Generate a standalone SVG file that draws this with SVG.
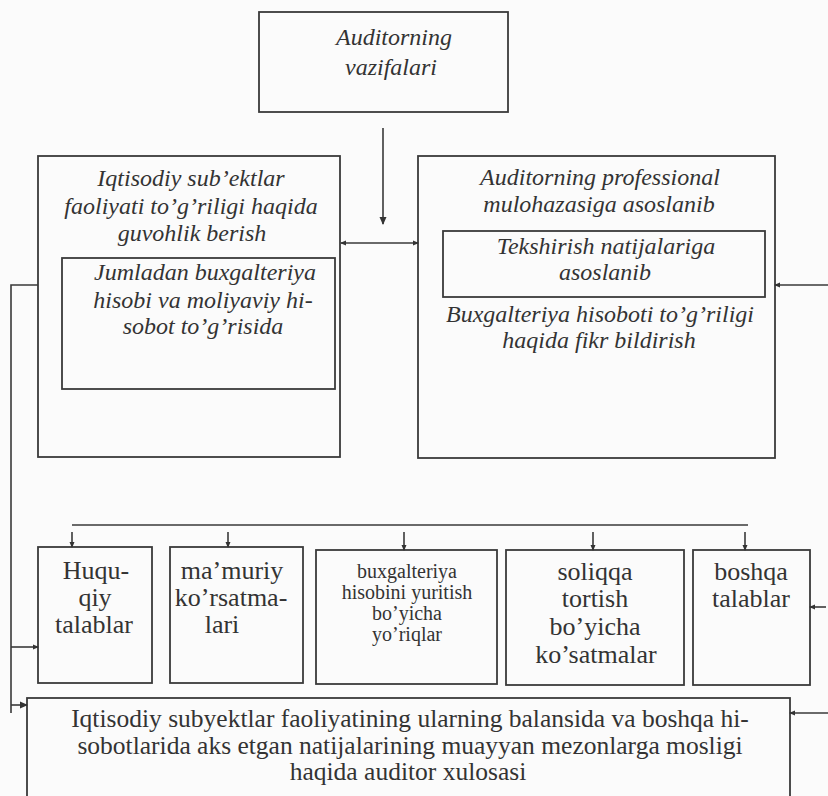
<svg xmlns="http://www.w3.org/2000/svg" width="828" height="796" viewBox="0 0 828 796">
<style>
.bg{fill:#fbfbfb}
.box{fill:none;stroke:#3a3a3a;stroke-width:1.8}
.ln{fill:none;stroke:#3a3a3a;stroke-width:1.6}
text{font-family:"Liberation Serif","Times New Roman","DejaVu Serif",serif;fill:#333;text-anchor:middle}
.it{font-style:italic;font-size:24px}
.up{font-size:26px}
.bt{font-size:25.5px}
.sm{font-size:20px}
</style>
<defs>
<marker id="ah" markerWidth="8" markerHeight="8" refX="7" refY="4" orient="auto" markerUnits="userSpaceOnUse">
<path d="M0,0.5 L8,4 L0,7.5 Z" fill="#333"/>
</marker>
<marker id="ahs" markerWidth="6" markerHeight="6" refX="5" refY="3" orient="auto" markerUnits="userSpaceOnUse">
<path d="M0,0.5 L6,3 L0,5.5 Z" fill="#333"/>
</marker>
</defs>
<rect class="bg" x="0" y="0" width="828" height="796"/>

<g id="top">
<rect class="box" x="259" y="12" width="249" height="100"/>
<text class="it" x="394" y="45">Auditorning</text>
<text class="it" x="391" y="75">vazifalari</text>
</g>

<g id="left">
<rect class="box" x="38" y="156" width="302" height="301"/>
<text class="it" x="191" y="186">Iqtisodiy sub’ektlar</text>
<text class="it" x="191" y="214">faoliyati to’g’riligi haqida</text>
<text class="it" x="192" y="241">guvohlik berish</text>
</g>
<g id="left-inner">
<rect class="box" x="62" y="258" width="273" height="131"/>
<text class="it" x="205" y="280">Jumladan buxgalteriya</text>
<text class="it" x="203" y="308">hisobi va moliyaviy hi-</text>
<text class="it" x="203" y="334">sobot to’g’risida</text>
</g>

<g id="right">
<rect class="box" x="418" y="156" width="357" height="302"/>
<text class="it" x="600" y="185">Auditorning professional</text>
<text class="it" x="599" y="212">mulohazasiga asoslanib</text>
<text class="it" x="600" y="322">Buxgalteriya hisoboti to’g’riligi</text>
<text class="it" x="599" y="348">haqida fikr bildirish</text>
</g>
<g id="right-inner">
<rect class="box" x="443" y="231" width="322" height="66"/>
<text class="it" x="606" y="254">Tekshirish natijalariga</text>
<text class="it" x="605" y="280">asoslanib</text>
</g>

<g id="huquqiy">
<rect class="box" x="38" y="547" width="114" height="136"/>
<text class="up" x="96" y="579">Huqu-</text>
<text class="up" x="95" y="606">qiy</text>
<text class="up" x="94" y="633">talablar</text>
</g>
<g id="mamuriy">
<rect class="box" x="170" y="547" width="133" height="136"/>
<text class="up" x="232" y="579">ma’muriy</text>
<text class="up" x="231" y="606">ko’rsatma-</text>
<text class="up" x="222" y="633">lari</text>
</g>
<g id="buxgalteriya">
<rect class="box" x="316" y="550" width="181" height="134"/>
<text class="sm" x="407" y="578">buxgalteriya</text>
<text class="sm" x="407" y="599">hisobini yuritish</text>
<text class="sm" x="407" y="620">bo’yicha</text>
<text class="sm" x="407" y="641">yo’riqlar</text>
</g>
<g id="soliqqa">
<rect class="box" x="506" y="550" width="178" height="135"/>
<text class="up" x="595" y="580">soliqqa</text>
<text class="up" x="595" y="607">tortish</text>
<text class="up" x="595" y="635">bo’yicha</text>
<text class="up" x="596" y="663">ko’satmalar</text>
</g>
<g id="boshqa">
<rect class="box" x="693" y="550" width="117" height="135"/>
<text class="up" x="751" y="580">boshqa</text>
<text class="up" x="751" y="607">talablar</text>
</g>

<g id="xulosa">
<rect class="box" x="27" y="698" width="763" height="120"/>
<text class="bt" x="410" y="727">Iqtisodiy subyektlar faoliyatining ularning balansida va boshqa hi-</text>
<text class="bt" x="410" y="753.5">sobotlarida aks etgan natijalarining muayyan mezonlarga mosligi</text>
<text class="bt" x="408" y="780">haqida auditor xulosasi</text>
</g>

<g id="connectors">
<line class="ln" x1="383" y1="128" x2="383" y2="224" marker-end="url(#ah)"/>
<line class="ln" x1="380" y1="243" x2="341" y2="243" marker-end="url(#ahs)"/>
<line class="ln" x1="380" y1="243" x2="418" y2="243" marker-end="url(#ahs)"/>
<path class="ln" d="M38,285 H11 V713"/>
<line class="ln" x1="11" y1="647" x2="38" y2="647" marker-end="url(#ahs)"/>
<line class="ln" x1="11" y1="705" x2="27" y2="705" marker-end="url(#ah)"/>
<line class="ln" x1="830" y1="285" x2="775" y2="285" marker-end="url(#ahs)"/>
<line class="ln" x1="826" y1="607" x2="810" y2="607" marker-end="url(#ahs)"/>
<line class="ln" x1="830" y1="713" x2="790" y2="713" marker-end="url(#ahs)"/>
<line class="ln" x1="72" y1="525" x2="748" y2="525"/>
<line class="ln" x1="72" y1="532" x2="72" y2="547" marker-end="url(#ahs)"/>
<line class="ln" x1="228" y1="532" x2="228" y2="547" marker-end="url(#ahs)"/>
<line class="ln" x1="404" y1="532" x2="404" y2="550" marker-end="url(#ahs)"/>
<line class="ln" x1="593" y1="532" x2="593" y2="550" marker-end="url(#ahs)"/>
<line class="ln" x1="745" y1="532" x2="745" y2="550" marker-end="url(#ahs)"/>
</g>
</svg>
